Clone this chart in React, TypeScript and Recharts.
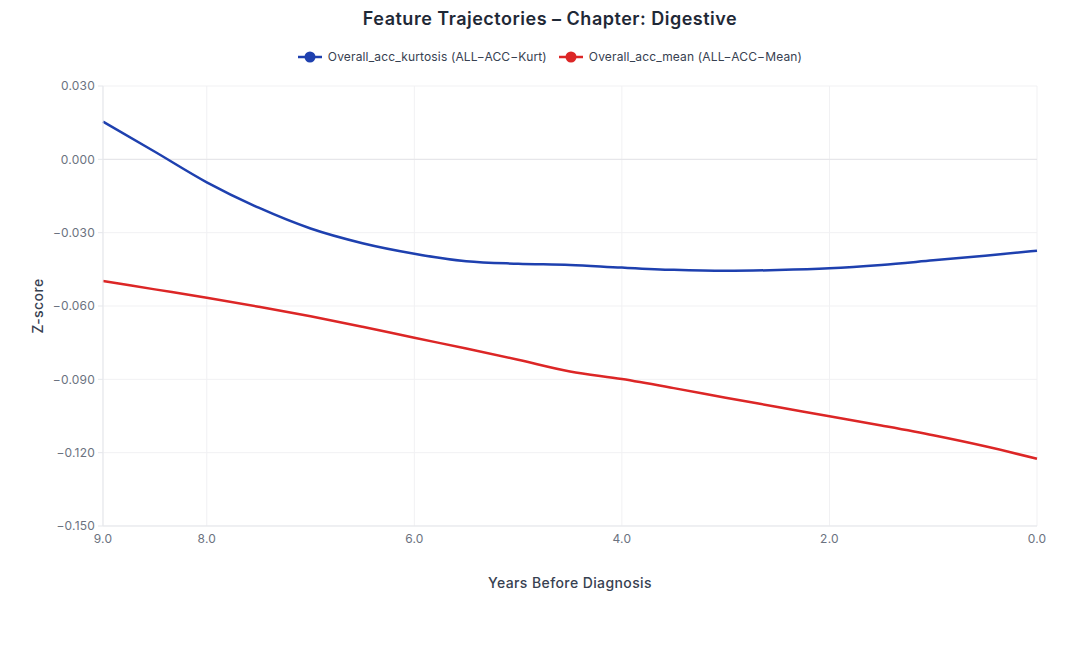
import React from 'react';
import {
  LineChart,
  Line,
  XAxis,
  YAxis,
  CartesianGrid,
  ReferenceLine,
} from 'recharts';

const years = [9, 8.5, 8, 7.5, 7, 6.5, 6, 5.5, 5, 4.5, 4, 3.5, 3, 2.5, 2, 1.5, 1, 0.5, 0];
const kurtosis = [
  0.0154, 0.0031, -0.0094, -0.0198, -0.0283, -0.0343, -0.0386, -0.0417, -0.0427, -0.0432,
  -0.0443, -0.0452, -0.0456, -0.0453, -0.0446, -0.0432, -0.0413, -0.0394, -0.0374,
];
const mean = [
  -0.0498, -0.0532, -0.0566, -0.0603, -0.0642, -0.0685, -0.073, -0.0774, -0.082, -0.0868,
  -0.0899, -0.0936, -0.0975, -0.1013, -0.1051, -0.1089, -0.1129, -0.1174, -0.1225,
];
const xTicks = [9, 8, 6, 4, 2, 0];
const yTicks = [-0.15, -0.12, -0.09, -0.06, -0.03, 0, 0.03];

const seriesInfo = [
  { key: 'kurt', name: 'Overall_acc_kurtosis (ALL\u2212ACC\u2212Kurt)', color: '#1e40af' },
  { key: 'mean', name: 'Overall_acc_mean (ALL\u2212ACC\u2212Mean)', color: '#dc2626' },
];

const data = years.map((y, i) => ({ year: y, kurt: kurtosis[i], mean: mean[i] }));

const font = 'Inter, "Noto Sans", sans-serif';
const fmtY = (v: number) => v.toFixed(3).replace('-', '\u2212');

export default function App() {
  return (
    <div style={{ position: 'relative', width: 1092, height: 650, fontFamily: font, background: '#fff' }}>
      <style>{'body{margin:0}'}</style>
      <div
        style={{
          position: 'absolute', top: 8, left: 4, width: 1092, textAlign: 'center',
          fontSize: 18, fontWeight: 600, color: '#1f2937', letterSpacing: 0.5,
        }}
      >
        Feature Trajectories – Chapter: Digestive
      </div>
      <div
        style={{
          position: 'absolute', top: 49, left: 4, width: 1092, display: 'flex',
          justifyContent: 'center', gap: 12, fontSize: 12, color: '#374151', letterSpacing: 0.15,
        }}
      >
        {seriesInfo.map((s) => (
          <div key={s.key} style={{ display: 'flex', alignItems: 'center', gap: 6 }}>
            <svg width={24} height={14}>
              <line x1={0} y1={7} x2={24} y2={7} stroke={s.color} strokeWidth={2.5} />
              <circle cx={12} cy={7} r={5.5} fill={s.color} />
            </svg>
            <span>{s.name}</span>
          </div>
        ))}
      </div>
      <div
        style={{
          position: 'absolute', left: 37, top: 306, transform: 'translate(-50%,-50%) rotate(-90deg)',
          fontSize: 14, fontWeight: 500, color: '#374151', whiteSpace: 'nowrap', letterSpacing: 0.4,
        }}
      >
        Z-score
      </div>
      <div
        style={{
          position: 'absolute', left: 570, top: 582, transform: 'translate(-50%,-50%)',
          fontSize: 14, fontWeight: 500, color: '#374151', whiteSpace: 'nowrap', letterSpacing: 0.4,
        }}
      >
        Years Before Diagnosis
      </div>
      <div style={{ position: 'absolute', top: 0, left: 0 }}>
        <LineChart
          width={1092}
          height={650}
          data={data}
          margin={{ top: 86, right: 55, bottom: 94, left: 43 }}
        >
          <CartesianGrid stroke="#f1f1f3" strokeWidth={1} />
          <XAxis
            dataKey="year"
            type="number"
            domain={[0, 9]}
            reversed
            ticks={xTicks}
            tickFormatter={(v: number) => v.toFixed(1)}
            height={30}
            tickLine={false}
            tickMargin={2}
            stroke="#e5e7eb"
            tick={{ fill: '#6b7280', fontSize: 12, fontFamily: font, letterSpacing: 0.2 }}
          />
          <YAxis
            type="number"
            domain={[-0.15, 0.03]}
            ticks={yTicks}
            tickFormatter={fmtY}
            width={60}
            tickSize={5}
            tickMargin={3}
            stroke="#e5e7eb"
            tick={{ fill: '#6b7280', fontSize: 12, fontFamily: font, letterSpacing: 0.2 }}
            allowDataOverflow
          />
          <ReferenceLine y={0} stroke="#e4e4e7" strokeWidth={1} />
          {seriesInfo.map((s) => (
            <Line
              key={s.key}
              type="monotone"
              dataKey={s.key}
              name={s.name}
              stroke={s.color}
              strokeWidth={2.5}
              dot={false}
              activeDot={false}
              isAnimationActive={false}
            />
          ))}
        </LineChart>
      </div>
    </div>
  );
}
